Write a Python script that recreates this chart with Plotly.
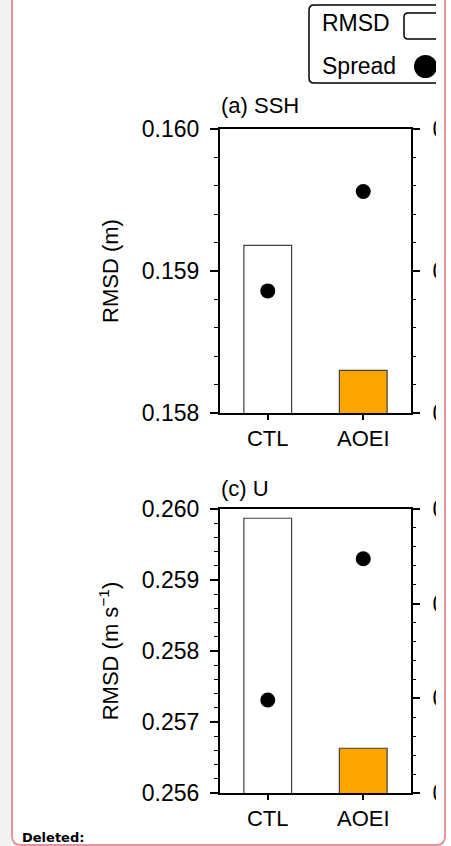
import plotly.graph_objects as go

# ---- data -------------------------------------------------------------
experiments = ["CTL", "AOEI"]

ssh_rmsd = [0.15918, 0.15830]
ssh_spread = [0.15886, 0.15956]

u_rmsd = [0.25987, 0.25663]
u_spread = [0.25731, 0.25930]

ssh_ticks = [0.158, 0.159, 0.160]
u_ticks = [0.256, 0.257, 0.258, 0.259, 0.260]
u_spread_ticks = [0.110, 0.111, 0.112, 0.113]

bar_fill = ["white", "#FFA500"]

W, H = 451, 846
FONT = "Liberation Sans, Arial, Helvetica, sans-serif"
FS = 23


def px(x):
    return x / W


def py(y):
    return 1 - y / H


fig = go.Figure()

# ---- panels -------------------------------------------------------------
panels = [
    dict(xa="x", ya="y", rmsd=ssh_rmsd, spread=ssh_spread),
    dict(xa="x2", ya="y3", rmsd=u_rmsd, spread=u_spread),
]
for p in panels:
    fig.add_trace(go.Bar(
        x=experiments, y=p["rmsd"], xaxis=p["xa"], yaxis=p["ya"],
        width=0.5, marker=dict(color=bar_fill, line=dict(color="#404040", width=1.2)),
        showlegend=False, hoverinfo="skip"))
    fig.add_trace(go.Scatter(
        x=experiments, y=p["spread"], xaxis=p["xa"], yaxis=p["ya"],
        mode="markers", marker=dict(color="black", size=15),
        showlegend=False, hoverinfo="skip"))

# invisible traces that attach the right-hand scales to each panel
fig.add_trace(go.Scatter(x=experiments, y=[ssh_ticks[0]] * 2, xaxis="x",
                         yaxis="y2", mode="none", showlegend=False,
                         hoverinfo="skip"))
fig.add_trace(go.Scatter(x=experiments, y=[u_spread_ticks[0]] * 2, xaxis="x2",
                         yaxis="y4", mode="none", showlegend=False,
                         hoverinfo="skip"))

tickfont = dict(family=FONT, size=FS, color="black")
x_dom = [px(220), px(411)]
top_dom = [py(413), py(129)]
bot_dom = [py(793), py(509)]

common_x = dict(
    domain=x_dom, range=[-0.5, 1.5], showline=True, linecolor="black",
    linewidth=2, mirror=True, ticks="outside", ticklen=5, tickwidth=1.5,
    tickcolor="black", tickfont=dict(family=FONT, size=FS - 1, color="black"),
    showgrid=False, zeroline=False, fixedrange=True, automargin=False,
)


def yax(rng, dtick, dom, **kw):
    d = dict(
        domain=dom, range=rng, dtick=dtick, tick0=rng[0], tickformat=".3f",
        tickmode="linear",
        ticks="outside", ticklen=8, tickwidth=1.5, tickcolor="black",
        tickfont=tickfont, showgrid=False, zeroline=False, fixedrange=True,
        automargin=False, ticklabeloverflow="allow", showticklabels=True,
        minor=dict(dtick=dtick / 5, ticks="outside", ticklen=4,
                   tickwidth=1.2, tickcolor="black", showgrid=False),
    )
    d.update(kw)
    return d


fig.update_layout(
    width=W, height=H,
    margin=dict(l=0, r=0, t=0, b=0, autoexpand=False),
    paper_bgcolor="white", plot_bgcolor="white",
    showlegend=False,
    barmode="overlay",
    font=dict(family=FONT, color="black"),
    xaxis=dict(common_x, anchor="y"),
    xaxis2=dict(common_x, anchor="y3"),
    yaxis=yax([ssh_ticks[0], ssh_ticks[-1]], 0.001, top_dom, anchor="x",
              showline=True, linecolor="black", linewidth=2, mirror=True,
              ticklabelstandoff=6,
              title=dict(text="RMSD (m)", font=dict(family=FONT, size=FS - 1),
                         standoff=17)),
    yaxis2=yax([ssh_ticks[0], ssh_ticks[-1]], 0.001, top_dom, anchor="x",
               overlaying="y", side="right", showline=False,
               ticklabelstandoff=8),
    yaxis3=yax([u_ticks[0], u_ticks[-1]], 0.001, bot_dom, anchor="x2",
               showline=True, linecolor="black", linewidth=2, mirror=True,
               ticklabelstandoff=6,
               title=dict(text="RMSD (m s<sup>−1</sup>)",
                          font=dict(family=FONT, size=FS - 1), standoff=17)),
    yaxis4=yax([u_spread_ticks[0], u_spread_ticks[-1]], 0.001, bot_dom,
               anchor="x2", overlaying="y3", side="right", showline=False,
               ticklabelstandoff=8),
)

# ---- panel labels --------------------------------------------------------
for label, yc in [("(a) SSH", 105), ("(c) U", 488)]:
    fig.add_annotation(text=label, xref="paper", yref="paper", x=px(219),
                       y=py(yc), xanchor="left", yanchor="middle",
                       showarrow=False, font=dict(family=FONT, size=FS - 1))

# ---- legend box --------------------------------------------------------------
def rounded_rect(x0, y0, x1, y1, r):
    X0, X1 = px(x0), px(x1)
    Y0, Y1 = py(y0), py(y1)
    rx, ry = r / W, r / H
    return (f"M {X0+rx},{Y0} L {X1-rx},{Y0} Q {X1},{Y0} {X1},{Y0-ry} "
            f"L {X1},{Y1+ry} Q {X1},{Y1} {X1-rx},{Y1} L {X0+rx},{Y1} "
            f"Q {X0},{Y1} {X0},{Y1+ry} L {X0},{Y0-ry} Q {X0},{Y0} {X0+rx},{Y0} Z")


fig.add_shape(type="path", xref="paper", yref="paper",
              path=rounded_rect(309, 5, 470, 83, 5),
              line=dict(color="black", width=1.5), fillcolor="white",
              layer="above")
fig.add_shape(type="path", xref="paper", yref="paper",
              path=rounded_rect(404, 13, 470, 39, 4),
              line=dict(color="black", width=1.5), fillcolor="white",
              layer="above")
fig.add_shape(type="circle", xref="paper", yref="paper",
              x0=px(414), x1=px(437), y0=py(55), y1=py(78),
              line=dict(color="black", width=0), fillcolor="black",
              layer="above")
for label, yc in [("RMSD", 23), ("Spread", 66)]:
    fig.add_annotation(text=label, xref="paper", yref="paper", x=px(320),
                       y=py(yc), xanchor="left", yanchor="middle",
                       showarrow=False, font=dict(family=FONT, size=FS))

# ---- page frame around the figure ----------------------------------------------
fig.add_shape(type="rect", xref="paper", yref="paper",
              x0=px(436), x1=1.0, y0=0, y1=1,
              line=dict(width=0), fillcolor="white", layer="above")
fig.add_shape(type="rect", xref="paper", yref="paper",
              x0=0, x1=px(11), y0=0, y1=1,
              line=dict(width=0), fillcolor="#f2f2f2", layer="above")
fig.add_shape(type="path", xref="paper", yref="paper",
              path=(f"M {px(12)},{py(0)} L {px(12)},{py(836)} "
                    f"Q {px(12)},{py(845)} {px(21)},{py(845)} "
                    f"L {px(436)},{py(845)} Q {px(445)},{py(845)} {px(445)},{py(836)} "
                    f"L {px(445)},{py(0)}"),
              line=dict(color="#e3939a", width=2), layer="above")

fig.add_annotation(text="<b>Deleted:</b>", xref="paper", yref="paper",
                   x=px(20), y=py(837), xanchor="left", yanchor="middle",
                   showarrow=False,
                   font=dict(family="DejaVu Sans, sans-serif", size=13,
                             color="black"))

fig.write_html("out.html")
